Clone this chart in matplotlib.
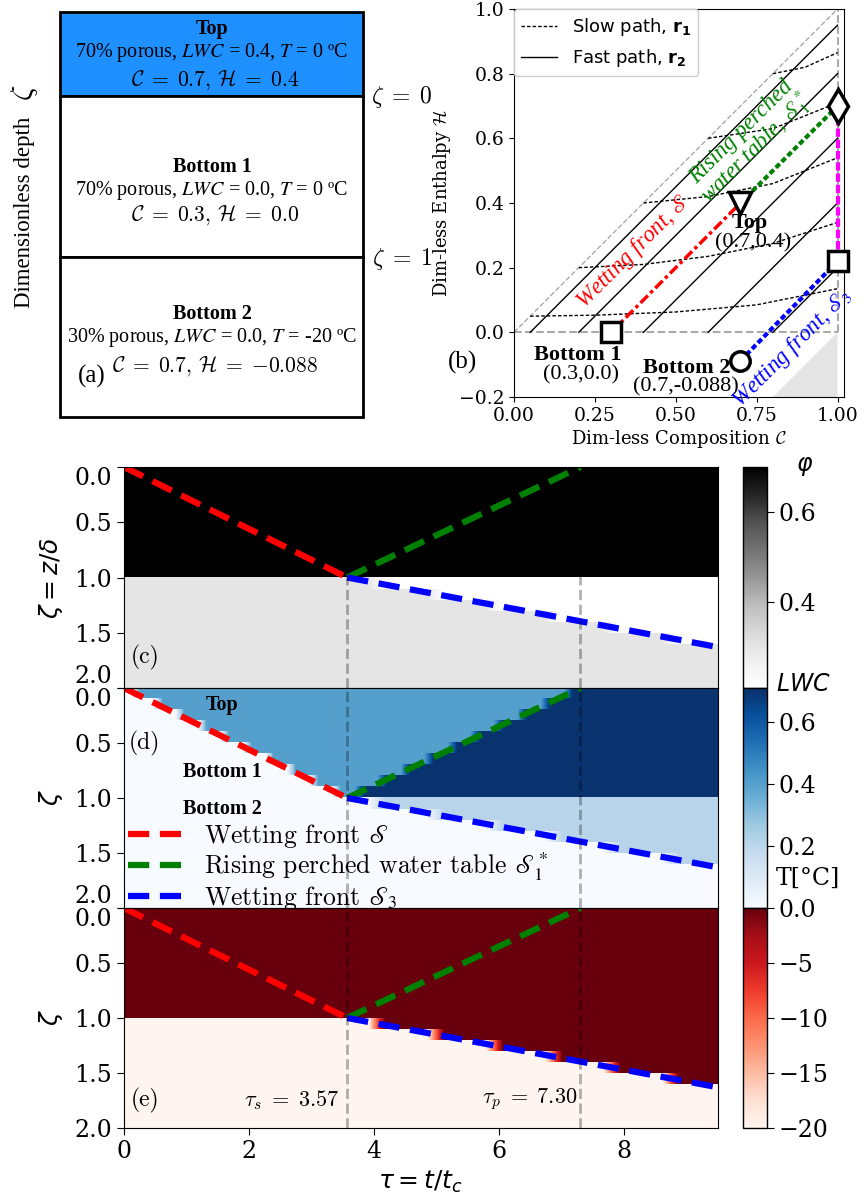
import numpy as np
import matplotlib
matplotlib.use("Agg")
import matplotlib.pyplot as plt
from matplotlib import colors
from matplotlib.cm import ScalarMappable
from matplotlib.font_manager import FontProperties
from matplotlib.patches import Rectangle

W, H = 865, 1195
SERIF = "DejaVu Serif"
TIMES = "Liberation Serif"
CM = "cmr10"

# front trajectories in (tau, zeta)
TAU_S = 3.57
TAU_P = 7.30
TAU_END = 9.5
FRONT_S_TAU = [0.0, TAU_S]
FRONT_S_ZETA = [0.0, 1.0]
FRONT_S1_TAU = [TAU_S, TAU_P]
FRONT_S1_ZETA = [1.0, 0.0]
FRONT_S3_TAU = [TAU_S, TAU_END]
FRONT_S3_ZETA = [1.0, 1.63]

# layer states
PHI_TOP, PHI_BOTTOM, PHI_BOTTOM_WET = 0.70, 0.30, 0.21
LWC_TOP, LWC_SATURATED, LWC_BOTTOM_WET = 0.40, 0.70, 0.21
T_TOP, T_BOTTOM = 0.0, -20.0
PHI_RANGE = (0.21, 0.70)
LWC_RANGE = (0.0, 0.71)
T_RANGE = (-20.0, 0.0)

# states in the composition-enthalpy plane
TOP_STATE = (0.7, 0.4)
BOTTOM1_STATE = (0.3, 0.0)
BOTTOM2_STATE = (0.7, -0.088)
PERCHED_STATE = (1.0, 0.70)
S3_STATE = (1.0, 0.22)

# characteristic paths
FAST_START_C = [0.05, 0.2, 0.4, 0.6, 0.8]
FAST_END_H = [0.95, 0.8, 0.6, 0.4, 0.2]
SLOW_C = [
    [0.05, 0.25, 0.5, 0.75, 1.0],
    [0.2, 0.4, 0.6, 0.8, 1.0],
    [0.4, 0.6, 0.8, 1.0],
    [0.6, 0.8, 1.0],
    [0.8, 0.9, 1.0],
]
SLOW_H = [
    [0.05, 0.053, 0.063, 0.085, 0.135],
    [0.2, 0.21, 0.235, 0.275, 0.34],
    [0.4, 0.42, 0.46, 0.54],
    [0.6, 0.63, 0.71],
    [0.8, 0.82, 0.865],
]
FROZEN_C = [0.8, 1.0, 1.0]
FROZEN_H = [-0.2, 0.0, -0.2]
DIAG_C, DIAG_H = [0.0, 1.0], [0.0, 1.0]
DRY_C, DRY_H = [0.0, 1.0], [0.0, 0.0]
WALL_C, WALL_H = [1.0, 1.0], [0.0, 1.0]


def px_rect(left, top, right, bottom):
    return [left / W, 1 - bottom / H, (right - left) / W, (bottom - top) / H]


fig = plt.figure(figsize=(W / 100, H / 100), dpi=100)

# ---------------- (a) layer schematic ----------------
ax_a = fig.add_axes([0, 0, 1, 1], zorder=0)
ax_a.set_xlim(0, W)
ax_a.set_ylim(H, 0)
ax_a.axis("off")
ax_a.add_patch(Rectangle((60, 12), 303, 84, fc="#1E90FF", ec="k", lw=2))
ax_a.add_patch(Rectangle((60, 96), 303, 161, fc="white", ec="k", lw=2))
ax_a.add_patch(Rectangle((60, 257), 303, 160, fc="white", ec="k", lw=2))

layer_text = [
    (29, "Top", "70% porous, $LWC$ = 0.4, $T$ = 0 ºC",
     r"$\mathcal{C}\;=\;0.7,\,\mathcal{H}\;=\;0.4$", 80),
    (167, "Bottom 1", "70% porous, $LWC$ = 0.0, $T$ = 0 ºC",
     r"$\mathcal{C}\;=\;0.3,\,\mathcal{H}\;=\;0.0$", 215),
    (314, "Bottom 2", "30% porous, $LWC$ = 0.0, $T$ = -20 ºC",
     r"$\mathcal{C}\;=\;0.7,\,\mathcal{H}\;=\;{-}0.088$", 366),
]
for y, name, desc, state, y_state in layer_text:
    ax_a.text(212, y, name, family=TIMES, weight="bold", size=14.5,
              ha="center", va="center")
    ax_a.text(212, y + 23, desc, family=TIMES, size=14.5, math_fontfamily="stix",
              ha="center", va="center")
    ax_a.text(215, y_state, state, size=15.5, math_fontfamily="cm",
              ha="center", va="center")
ax_a.text(92, 376, "(a)", family=TIMES, size=18, ha="center", va="center")
ax_a.text(25, 212, "Dimensionless depth", family=TIMES, size=16.5,
          rotation=90, ha="center", va="center")
ax_a.text(25, 93, r"$\zeta$", size=22, math_fontfamily="cm",
          rotation=90, ha="center", va="center")
ax_a.text(402, 97, r"$\zeta\;=\;0$", size=17, math_fontfamily="cm",
          ha="center", va="center")
ax_a.text(402, 259, r"$\zeta\;=\;1$", size=17, math_fontfamily="cm",
          ha="center", va="center")

# ---------------- (b) composition-enthalpy plane ----------------
ax_b = fig.add_axes(px_rect(514, 9, 844, 397))
ax_b.fill(FROZEN_C, FROZEN_H, color="#e5e5e5", lw=0, zorder=0)
ax_b.plot(DIAG_C, DIAG_H, color="#aaaaaa", ls="--", lw=1)
ax_b.plot(DRY_C, DRY_H, color="#aaaaaa", ls="--", lw=1.5)
ax_b.plot(WALL_C, WALL_H, color="#aaaaaa", ls="--", lw=1.5)
for c0, h1 in zip(FAST_START_C, FAST_END_H):
    ax_b.plot([c0, 1.0], [0.0, h1], color="k", lw=1)
for cs, hs in zip(SLOW_C, SLOW_H):
    ax_b.plot(cs, hs, color="k", lw=1, dashes=(2.5, 1.5))

ax_b.plot(*zip(BOTTOM1_STATE, TOP_STATE), color="red", lw=2.5,
          dashes=(3, 1, 1, 1), zorder=3)
ax_b.plot(*zip(TOP_STATE, PERCHED_STATE), color="green", lw=3,
          dashes=(1.3, 0.7), zorder=3)
ax_b.plot(*zip(PERCHED_STATE, S3_STATE), color="magenta", lw=3,
          dashes=(2, 0.7), zorder=3)
ax_b.plot(*zip(BOTTOM2_STATE, S3_STATE), color="blue", lw=3,
          dashes=(1.3, 0.7), zorder=3)

marker_kw = dict(mfc="white", mec="k", mew=2.5, clip_on=False, zorder=5, ls="none")
ax_b.plot(*BOTTOM1_STATE, marker="s", ms=15, **marker_kw)
ax_b.plot(*TOP_STATE, marker="v", ms=16, **marker_kw)
ax_b.plot(*PERCHED_STATE, marker="d", ms=17, **marker_kw)
ax_b.plot(*S3_STATE, marker="s", ms=15, **marker_kw)
ax_b.plot(*BOTTOM2_STATE, marker="o", ms=14, **marker_kw)


def state_label(st):
    return f"({st[0]},{st[1]})"


ax_b.text(0.73, 0.338, "Top", family=TIMES, weight="bold", size=16,
          ha="center", va="center", zorder=6)
ax_b.text(0.74, 0.276, state_label(TOP_STATE), family=TIMES, size=16,
          ha="center", va="center", zorder=6)
ax_b.text(0.197, -0.07, "Bottom 1", family=TIMES, weight="bold", size=16,
          ha="center", va="center")
ax_b.text(0.206, -0.132, state_label(BOTTOM1_STATE), family=TIMES, size=16,
          ha="center", va="center")
ax_b.text(0.535, -0.111, "Bottom 2", family=TIMES, weight="bold", size=16,
          ha="center", va="center")
ax_b.text(0.53, -0.17, state_label(BOTTOM2_STATE), family=TIMES, size=16,
          ha="center", va="center")
ax_b.text(0.37, 0.25, r"Wetting front, $\mathscr{S}$", color="red",
          family=TIMES, style="italic", size=16.5, math_fontfamily="stix",
          rotation=45, rotation_mode="anchor", ha="center", va="center")
ax_b.text(0.73, 0.59, "Rising perched\n" + r"water table, $\mathscr{S}_1^*$",
          color="green", family=TIMES, style="italic", size=16.5,
          math_fontfamily="stix", rotation=45, rotation_mode="anchor",
          ha="center", va="center", linespacing=0.85)
ax_b.text(0.86, -0.05, r"Wetting front, $\mathscr{S}_3$", color="blue",
          family=TIMES, style="italic", size=16.5, math_fontfamily="stix",
          rotation=45, rotation_mode="anchor", ha="center", va="center")
ax_b.text(-0.158, -0.092, "(b)", family=TIMES, size=18,
          ha="center", va="center", clip_on=False)

ax_b.set_xlim(0, 1.02)
ax_b.set_ylim(-0.2, 1.0)
ax_b.set_xticks([0, 0.25, 0.5, 0.75, 1.0])
ax_b.set_yticks(np.arange(-0.2, 1.01, 0.2))
ax_b.tick_params(labelsize=13.5)
for lab in ax_b.get_xticklabels() + ax_b.get_yticklabels():
    lab.set_family(SERIF)
ax_b.set_xlabel(r"Dim-less Composition $\mathcal{C}$", family=SERIF, size=13,
                math_fontfamily="cm", labelpad=2)
ax_b.set_ylabel(r"Dim-less Enthalpy $\mathcal{H}$", family=SERIF, size=13,
                math_fontfamily="cm", labelpad=4)
leg_handles = [
    plt.Line2D([], [], color="k", lw=1, dashes=(2.5, 1.5)),
    plt.Line2D([], [], color="k", lw=1),
]
ax_b.legend(leg_handles, [r"Slow path, $\mathbf{r_1}$", r"Fast path, $\mathbf{r_2}$"],
            loc="upper left", prop=FontProperties(family="DejaVu Sans", size=13),
            borderaxespad=0.0, framealpha=1.0)

# ---------------- (c)-(e) depth-time fields ----------------
tau = np.linspace(0.0, TAU_END, 600)
zeta_cells = np.arange(0.05, 2.0, 0.1)[:, None]
z_s = np.interp(tau, FRONT_S_TAU, FRONT_S_ZETA)
z_s1 = np.interp(tau, FRONT_S1_TAU, FRONT_S1_ZETA)
z_s3 = np.interp(tau, FRONT_S3_TAU, FRONT_S3_ZETA)
EDGE = 0.04
wet = np.clip((z_s - zeta_cells) / EDGE + 0.5, 0, 1)
sat = np.clip((zeta_cells - z_s1) / EDGE + 0.5, 0, 1)
wet3 = np.clip((z_s3 - zeta_cells) / 0.03 + 0.5, 0, 1)
upper = zeta_cells < 1.0

phi = np.where(upper, PHI_TOP, PHI_BOTTOM + (PHI_BOTTOM_WET - PHI_BOTTOM) * wet3)
lwc = np.where(upper, LWC_TOP * wet + (LWC_SATURATED - LWC_TOP) * sat,
               LWC_BOTTOM_WET * wet3)
temp = np.where(upper, T_TOP, T_BOTTOM * (1 - wet3))

panels = [
    (467, 688, phi, "Greys", PHI_RANGE, "(c)", 0.14),
    (688, 908, lwc, "Blues", LWC_RANGE, "(d)", 0.75),
    (908, 1128, temp, "Reds", T_RANGE, "(e)", 0.127),
]
axes = []
for top, bottom, field, cmap, rng, tag, tag_y in panels:
    ax = fig.add_axes(px_rect(124, top, 718, bottom))
    ax.imshow(field, cmap=cmap, vmin=rng[0], vmax=rng[1],
              extent=[0, TAU_END, 2.0, 0.0], aspect="auto",
              interpolation="nearest")
    ax.plot(FRONT_S_TAU, FRONT_S_ZETA, color="red", lw=4.5, dashes=(3.4, 1.7),
            label=r"Wetting front $\mathscr{S}$")
    ax.plot(FRONT_S1_TAU, FRONT_S1_ZETA, color="green", lw=4.5, dashes=(3.4, 1.7),
            label=r"Rising perched water table $\mathscr{S}_1^*$")
    ax.plot(FRONT_S3_TAU, FRONT_S3_ZETA, color="blue", lw=4.5, dashes=(3.4, 1.7),
            label=r"Wetting front $\mathscr{S}_3$")
    for t_mark in (TAU_S, TAU_P):
        ax.axvline(t_mark, color="k", alpha=0.3, ls="--", lw=2)
    ax.set_xlim(0, TAU_END)
    ax.set_ylim(2.0, 0.0)
    ax.set_yticks([0.0, 0.5, 1.0, 1.5, 2.0])
    ax.tick_params(labelsize=17, length=5)
    for lab in ax.get_xticklabels() + ax.get_yticklabels():
        lab.set_family(SERIF)
    ax.text(0.035, tag_y, tag, transform=ax.transAxes, family=CM, size=17,
            ha="center", va="center")
    ax.yaxis.set_label_coords(-0.1, 0.5)
    axes.append(ax)

ax_c, ax_d, ax_e = axes
ax_c.tick_params(labelbottom=False)
ax_d.tick_params(labelbottom=False)
# keep the end labels of stacked panels from colliding at shared edges
for ax in axes:
    ylabels = ax.get_yticklabels()
    ylabels[0].set_va("top")
    if ax is not ax_e:
        ylabels[-1].set_va("bottom")
ax_c.set_ylabel(r"$\zeta = z/\delta$", size=18)
ax_d.set_ylabel(r"$\zeta$", size=18)
ax_e.set_ylabel(r"$\zeta$", size=18)
ax_e.set_xlabel(r"$\tau = t/t_c$", size=18)

for name, y in (("Top", 0.155), ("Bottom 1", 0.76), ("Bottom 2", 1.1)):
    ax_d.text(1.57, y, name, family=TIMES, weight="bold", size=14.5,
              ha="center", va="center")
ax_d.legend(loc="lower left", bbox_to_anchor=(0.0, -0.035), frameon=False,
            handlelength=2.05, labelspacing=0.02, borderaxespad=0.0,
            borderpad=0.15, handletextpad=0.9,
            prop=FontProperties(family=CM, size=18.5, math_fontfamily="stix"))

ax_e.text(TAU_S - 0.12, 1.745, rf"$\tau_s\;=\;{TAU_S:.2f}$", size=16,
          math_fontfamily="cm", ha="right", va="center")
ax_e.text(TAU_P - 0.04, 1.74, rf"$\tau_p\;=\;{TAU_P:.2f}$", size=16,
          math_fontfamily="cm", ha="right", va="center")

# ---------------- stacked colour bars ----------------
cbar_specs = [
    (467, 688, "Greys", PHI_RANGE, [0.4, 0.6], None),
    (688, 908, "Blues", LWC_RANGE, [0.2, 0.4, 0.6], None),
    (908, 1128, "Reds", T_RANGE, [-20, -15, -10, -5, 0],
     ["\u221220", "\u221215", "\u221210", "\u22125", "0.0"]),
]
for top, bottom, cmap, rng, ticks, labels in cbar_specs:
    cax = fig.add_axes(px_rect(743, top, 767, bottom))
    cb = fig.colorbar(ScalarMappable(colors.Normalize(*rng), cmap), cax=cax,
                      ticks=ticks)
    if labels:
        cb.set_ticklabels(labels)
    cb.outline.set_linewidth(1)
    cax.tick_params(labelsize=17, length=5)
    for lab in cax.get_yticklabels():
        lab.set_family(SERIF)

fig.text(805 / W, 1 - 466 / H, r"$\varphi$", size=17, ha="center", va="center")
fig.text(803 / W, 1 - 684 / H, r"$LWC$", size=17, ha="center", va="center")
fig.text(808 / W, 1 - 878 / H, "T[°C]", family=SERIF, size=17,
         ha="center", va="center")

fig.savefig("out.png", dpi=100)
